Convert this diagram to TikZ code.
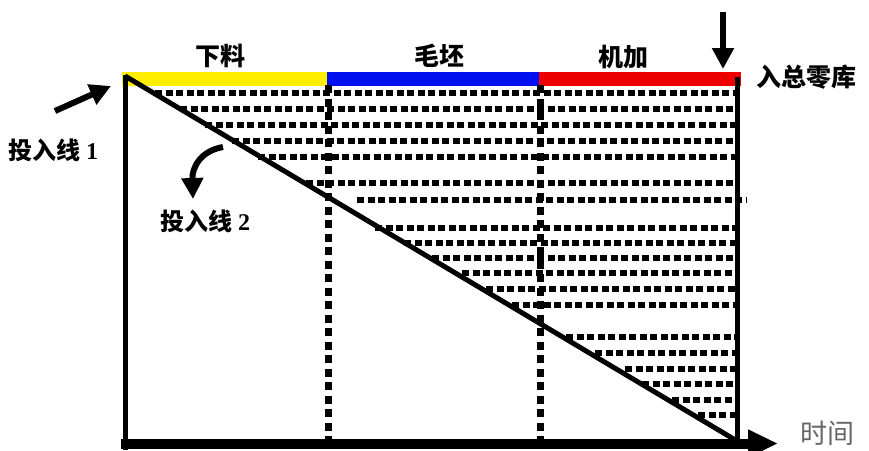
\documentclass[tikz,border=0pt]{standalone}
\usepackage{fontspec}
\setmainfont{Liberation Serif}
\newfontfamily\cjk{Noto Sans CJK SC}
\usetikzlibrary{arrows.meta}
\definecolor{barY}{HTML}{FFEE00}
\definecolor{barB}{HTML}{0010F0}
\definecolor{barR}{HTML}{EE0000}
\definecolor{timegray}{HTML}{666666}
\begin{document}
\begin{tikzpicture}[x=1pt,y=-1pt,
  lab/.style={font=\cjk\bfseries\fontsize{25}{27}\selectfont, inner sep=0pt},
  sidelab/.style={font=\bfseries\fontsize{24}{26}\selectfont, inner sep=0pt},
  hdots/.style={line width=6.5pt, dash pattern=on 7pt off 3.5pt},
  vdots/.style={line width=7pt, dash pattern=on 8pt off 5.5pt},
  axisline/.style={line width=5.5pt},
  fat/.style={line width=6pt, -{Triangle[length=21pt,width=21pt]}},
  barline/.style={line width=14pt}
]
\useasboundingbox (0,0) rectangle (869,450);
% colour bar
\draw[barline, barY] (122,79) -- (327,79);
\draw[barline, barB] (327,79) -- (539,79);
\draw[barline, barR] (539,79) -- (741,79);
% dotted rows
\foreach \y/\a/\b in {93/155/735, 109/180/735, 125/205/735, 141/232/735, 157/258/735,
  183/306/735, 200/357/747, 228/375/735, 243/404/735, 258/432/735, 273/462/735,
  289/486/735, 305/512/735, 337/566/735, 353/595/735, 369/625/735, 384/642/735,
  400/672/735, 415/698/735}
  \draw[hdots] (\a,\y) -- (\b,\y);
% dotted verticals
\draw[vdots] (328,85) -- (328,440);
\draw[vdots] (540,85) -- (540,440);
% frame
\draw[line width=5pt] (125,76) -- (737,441);
\draw[axisline] (125.5,75) -- (125.5,450);
\draw[axisline] (737.5,77) -- (737.5,441);
\draw[line width=10pt, -{Triangle[length=30pt,width=26pt]}] (121,443.5) -- (778,443.5);
% labels
\node[lab] (xl) at (220,56) {下料};
\node[lab] (mp) at (439,56) {毛坯};
\node[lab] (jj) at (623,57) {机加};
\node[lab, anchor=west] (rk) at (756,77) {入总零库};
\node[sidelab, anchor=west] (t1) at (8,150) {{\cjk 投入线} 1};
\node[sidelab, anchor=west] (t2) at (160,221) {{\cjk 投入线} 2};
\node[font=\cjk\fontsize{27}{29}\selectfont, text=timegray, inner sep=0pt] (sj) at (827,433) {时间};
% arrows
\coordinate (a1s) at (55,111);
\coordinate (a1e) at (111,86);
\draw[fat] (a1s) -- (a1e);
\coordinate (a2s) at (223,147);
\coordinate (a2e) at (193,199);
\draw[fat] (a2s) .. controls (200,151) and (192,168) .. (a2e);
\coordinate (a3s) at (723,12);
\coordinate (a3e) at (723,69);
\draw[fat] (a3s) -- (a3e);
\end{tikzpicture}
\end{document}
